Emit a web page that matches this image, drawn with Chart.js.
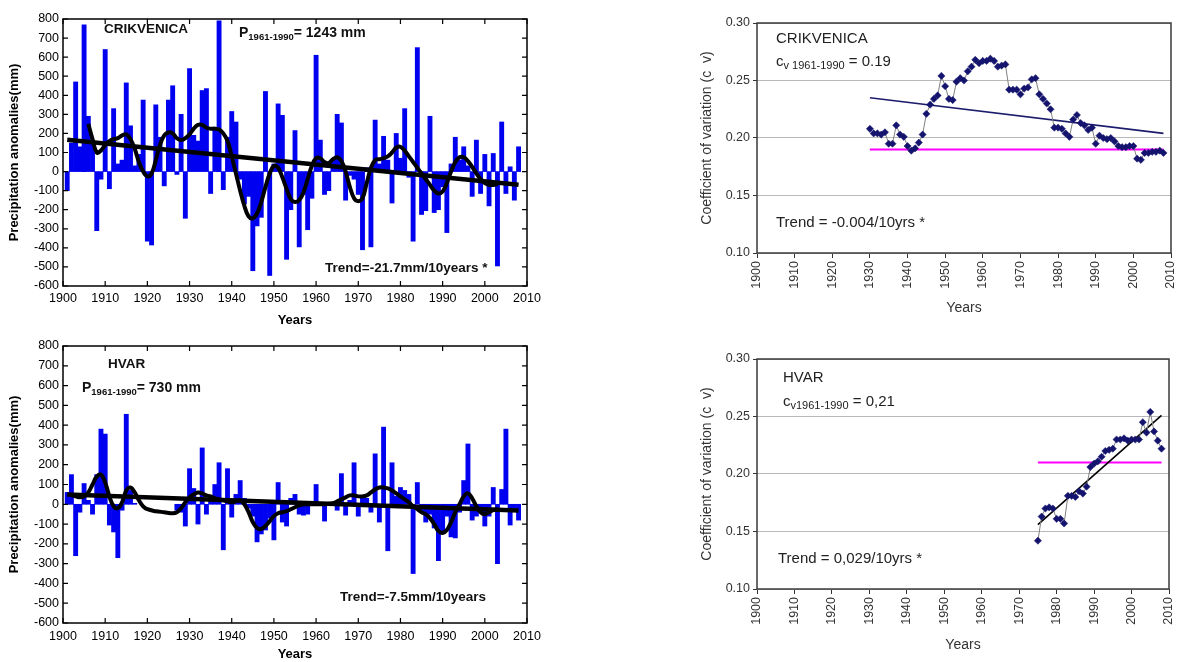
<!DOCTYPE html>
<html lang="en">
<head>
<meta charset="UTF-8">
<title>Precipitation anomalies and coefficient of variation</title>
<script src="https://cdn.jsdelivr.net/npm/chart.js"></script>
<style>
  body { margin: 0; background: #fff; }
  canvas { position: absolute; }
</style>
</head>
<body>
<canvas id="crikP" width="560" height="330" style="left:0;top:0"></canvas>
<canvas id="hvarP" width="560" height="332" style="left:0;top:330px"></canvas>
<canvas id="crikCv" width="487" height="330" style="left:690px;top:0"></canvas>
<canvas id="hvarCv" width="487" height="332" style="left:690px;top:330px"></canvas>

<script>
// ---- data ----
const xTickYears = [1900, 1910, 1920, 1930, 1940, 1950, 1960, 1970, 1980, 1990, 2000, 2010];
const precipTicks = [-600, -500, -400, -300, -200, -100, 0, 100, 200, 300, 400, 500, 600, 700, 800];
const cvTicks = [0.10, 0.15, 0.20, 0.25, 0.30];

// Crikvenica precipitation anomalies (mm), 1901-2008
const crikStartYear = 1901;
const crikAnomaly = [
  -100, 150, 470, 130, 770, 290, 160, -310, -40, 640,
  -90, 330, 40, 60, 465, 240, 30, 90, 375, -365,
  -385, 350, 180, -75, 375, 450, -15, 300, -245, 540,
  190, 160, 425, 435, -115, 230, 790, -95, 180, 315,
  260, -40, -170, -130, -520, -285, -240, 420, -545, 40,
  355, 295, -460, -200, 215, -395, -120, -305, -140, 610,
  165, -120, -100, 60, 300, 255, -150, -20, -40, -120,
  -410, 20, -395, 270, 40, 185, 60, -165, 200, 70,
  330, -30, -365, 650, -225, -205, 290, -215, -200, -80,
  -320, 40, 180, 60, 130, 30, -130, 165, -115, 90,
  -180, 95, -495, 260, -115, 25, -150, 130
];
// Gaussian-filtered curve, 1906-2003
const crikSmoothStart = 1906;
const crikSmooth = [
  250, 170, 100, 110, 140, 160, 170, 175, 190, 195,
  170, 120, 50, 0, -25, -10, 60, 140, 190, 205,
  200, 175, 165, 175, 195, 225, 245, 245, 230, 225,
  225, 220, 200, 160, 80, -10, -100, -180, -235, -245,
  -220, -160, -80, -10, 30, 20, -30, -90, -145, -160,
  -150, -110, -40, 30, 70, 70, 50, 45, 65, 75,
  55, 0, -80, -140, -155, -140, -60, 20, 60, 65,
  70, 80, 100, 125, 130, 110, 80, 50, 20, -10,
  -40, -70, -100, -115, -105, -60, 0, 50, 75, 75,
  55, 25, -10, -40, -60, -70, -70, -65
];
const crikTrendYears = [1901, 2008];
const crikTrend = [167, -69];

// Hvar precipitation anomalies (mm), 1901-2008 (no data 1918-1926)
const hvarStartYear = 1901;
const hvarAnomaly = [
  60, 150, -260, -40, 105, 20, -50, 150, 380, 355,
  -105, -140, -270, -30, 455, 70, 5,
  null, null, null, null, null, null, null, null, null,
  -30, -40, -110, 180, 80, -100, 285, -50, 20, 100,
  210, -230, 180, -65, 50, 120, 30, -20, -60, -190,
  -150, -130, -70, -180, 110, -90, -110, 30, 50, -50,
  -55, -50, 10, 100, 10, -85, 5, 10, -30, 155,
  -55, 20, 210, -60, 30, 30, -40, 255, -90, 390,
  -235, 210, 40, 85, 70, 50, -350, 110, -40, -90,
  -50, -120, -285, -140, -60, -165, -170, -40, 120, 305,
  -80, -60, -40, -110, -60, 85, -300, 75, 380, -105,
  -20, -80
];
const hvarSmoothYears = [
  1902, 1903, 1904, 1905, 1906, 1907, 1908, 1909, 1910, 1911,
  1912, 1913, 1914, 1915, 1916, 1917, 1918, 1919, 1920, 1922,
  1924, 1926, 1927, 1928, 1929, 1930, 1931, 1932, 1933, 1934,
  1935, 1936, 1937, 1938, 1939, 1940, 1941, 1942, 1943, 1944,
  1945, 1946, 1947, 1948, 1949, 1950, 1951, 1952, 1953, 1954,
  1955, 1956, 1958, 1960, 1962, 1964, 1965, 1966, 1967, 1968,
  1969, 1970, 1971, 1972, 1973, 1974, 1975, 1976, 1977, 1978,
  1979, 1980, 1981, 1982, 1983, 1984, 1985, 1986, 1987, 1988,
  1989, 1990, 1991, 1992, 1993, 1994, 1995, 1996, 1997, 1998,
  1999, 2000, 2001, 2002, 2003
];
const hvarSmooth = [
  45, 40, 35, 40, 60, 100, 140, 150, 110, 40,
  -10, -20, 10, 70, 85, 60, 20, -10, -25, -35,
  -40, -45, -40, -20, 10, 35, 50, 60, 55, 45,
  40, 30, 25, 20, 15, 10, 15, 20, 0, -40,
  -90, -120, -125, -110, -85, -60, -45, -40, -35, -25,
  -15, -5, 0, 0, 0, 5, 15, 25, 35, 45,
  45, 40, 40, 45, 60, 75, 85, 85, 80, 70,
  55, 40, 25, 10, -10, -25, -40, -50, -70, -100,
  -135, -145, -130, -90, -40, 0, 40, 55, 30, -10,
  -40, -50, -40, -30, -25
];
const hvarTrendYears = [1901, 2008];
const hvarTrend = [49, -31];

// Coefficient of variation, Crikvenica 1930-2008
const crikCvStart = 1930;
const crikCvValues = [
  0.208, 0.204, 0.204, 0.203, 0.205, 0.195, 0.195, 0.211, 0.203, 0.201,
  0.193, 0.189, 0.191, 0.196, 0.203, 0.221, 0.229, 0.234, 0.237, 0.254,
  0.245, 0.234, 0.233, 0.249, 0.252, 0.250, 0.258, 0.262, 0.268, 0.265,
  0.267, 0.267, 0.269, 0.267, 0.262, 0.263, 0.264, 0.242, 0.242, 0.242,
  0.238, 0.243, 0.244, 0.251, 0.252, 0.238, 0.234, 0.230, 0.225, 0.209,
  0.209, 0.208, 0.204, 0.201, 0.216, 0.220, 0.213, 0.211, 0.207, 0.209,
  0.195, 0.202, 0.200, 0.199, 0.200, 0.197, 0.193, 0.192, 0.192, 0.193,
  0.193, 0.182, 0.181, 0.187, 0.187, 0.188, 0.188, 0.189, 0.187
];
const crikCvTrendYears = [1930, 2008];
const crikCvTrend = [0.235, 0.204];
const crikCvNormYears = [1930, 2008];
const crikCvNorm = [0.19, 0.19];

// Coefficient of variation, Hvar 1975-2008
const hvarCvStart = 1975;
const hvarCvValues = [
  0.142, 0.163, 0.170, 0.171, 0.170, 0.161, 0.161, 0.157, 0.181, 0.181,
  0.180, 0.185, 0.183, 0.189, 0.206, 0.209, 0.211, 0.215, 0.220, 0.221,
  0.222, 0.230, 0.230, 0.231, 0.229, 0.230, 0.230, 0.230, 0.245, 0.236,
  0.254, 0.237, 0.229, 0.222
];
const hvarCvTrendYears = [1975, 2008];
const hvarCvTrend = [0.156, 0.251];
const hvarCvNormYears = [1975, 2008];
const hvarCvNorm = [0.21, 0.21];

// ---- helpers ----
const FONT = '"Liberation Sans", Arial, sans-serif';
Chart.defaults.font.family = FONT;

function fromStart(start, values) {
  return values.map((v, i) => ({ x: start + i, y: v }));
}
function pairs(xs, ys) {
  return xs.map((x, i) => ({ x: x, y: ys[i] }));
}

function drawParts(ctx, x, y, parts) {
  let cx = x;
  ctx.textBaseline = 'middle';
  ctx.textAlign = 'left';
  parts.forEach(p => {
    ctx.font = p.font;
    ctx.fillText(p.t, cx, y + (p.dy || 0));
    cx += ctx.measureText(p.t).width;
  });
}

function notesPlugin(items, color) {
  return {
    id: 'notes',
    afterDraw(chart) {
      const ctx = chart.ctx;
      ctx.save();
      ctx.fillStyle = color;
      items.forEach(it => drawParts(ctx, it.x, it.y, it.parts));
      ctx.restore();
    }
  };
}

// keep label overhang from shifting the plot area
function noPad(s) {
  s.paddingLeft = 0; s.paddingRight = 0; s.paddingTop = 0; s.paddingBottom = 0;
}

// frame with inward ticks on all four sides (left panels)
const boxTicks = {
  id: 'boxTicks',
  afterDatasetsDraw(chart) {
    const { ctx, chartArea: a } = chart;
    const x = chart.scales.x, y = chart.scales.y;
    ctx.save();
    ctx.strokeStyle = '#000';
    ctx.lineWidth = 1.5;
    ctx.strokeRect(a.left, a.top, a.right - a.left, a.bottom - a.top);
    ctx.lineWidth = 1.2;
    ctx.beginPath();
    x.ticks.forEach(t => {
      const px = x.getPixelForValue(t.value);
      ctx.moveTo(px, a.bottom); ctx.lineTo(px, a.bottom - 5);
      ctx.moveTo(px, a.top); ctx.lineTo(px, a.top + 5);
    });
    y.ticks.forEach(t => {
      const py = y.getPixelForValue(t.value);
      ctx.moveTo(a.left, py); ctx.lineTo(a.left + 5, py);
      ctx.moveTo(a.right, py); ctx.lineTo(a.right - 5, py);
    });
    ctx.stroke();
    ctx.restore();
  }
};

// plain frame (right panels)
const plainFrame = {
  id: 'plainFrame',
  afterDatasetsDraw(chart) {
    const { ctx, chartArea: a } = chart;
    ctx.save();
    ctx.strokeStyle = '#3a3a3a';
    ctx.lineWidth = 1.5;
    ctx.strokeRect(a.left, a.top, a.right - a.left, a.bottom - a.top);
    ctx.restore();
  }
};

function precipChart(id, o) {
  return new Chart(document.getElementById(id), {
    type: 'bar',
    data: {
      datasets: [
        { type: 'line', data: o.smooth, borderColor: '#000', borderWidth: 4, pointRadius: 0, tension: 0.4, order: 0 },
        { type: 'line', data: o.trend, borderColor: '#000', borderWidth: 4.5, pointRadius: 0, order: 1 },
        { data: o.bars, backgroundColor: '#0000f0', barPercentage: 1, categoryPercentage: 1, order: 2 }
      ]
    },
    options: {
      responsive: false,
      animation: false,
      layout: { padding: o.padding },
      plugins: { legend: { display: false }, tooltip: { enabled: false } },
      scales: {
        x: {
          type: 'linear', offset: false, min: 1900, max: 2010,
          afterBuildTicks: s => { s.ticks = xTickYears.map(v => ({ value: v })); },
          afterFit: s => { s.height = o.xHeight; noPad(s); },
          grid: { display: false, drawTicks: false },
          border: { display: false },
          ticks: { padding: o.xPad, maxRotation: 0, autoSkip: false, color: '#000',
                   font: { size: 12.5 }, callback: v => String(v) },
          title: { display: true, text: 'Years', color: '#000',
                   font: { size: 13, weight: 'bold' }, padding: { top: 0, bottom: o.titlePad } }
        },
        y: {
          min: -600, max: 800,
          afterBuildTicks: s => { s.ticks = precipTicks.map(v => ({ value: v })); },
          afterFit: s => { s.width = 63; noPad(s); },
          grid: { display: false, drawTicks: false },
          border: { display: false },
          ticks: { padding: 4, color: '#000', font: { size: 12.5 }, callback: v => String(v) },
          title: { display: true, text: 'Precipitation anomalies(mm)', color: '#000',
                   font: { size: 13, weight: 'bold' }, padding: { top: 7, bottom: 0 } }
        }
      }
    },
    plugins: [boxTicks, notesPlugin(o.notes, '#111')]
  });
}

function cvChart(id, o) {
  return new Chart(document.getElementById(id), {
    type: 'line',
    data: {
      datasets: [
        { data: o.series, borderColor: '#808080', borderWidth: 1, pointStyle: 'rectRot', pointRadius: 3.6,
          pointBackgroundColor: '#14146e', pointBorderColor: '#14146e', pointBorderWidth: 0.5, order: 0 },
        { data: o.trend, borderColor: o.trendColor, borderWidth: 1.6, pointRadius: 0, order: 1 },
        { data: o.norm, borderColor: '#ff00ff', borderWidth: 2, pointRadius: 0, order: 2 }
      ]
    },
    options: {
      responsive: false,
      animation: false,
      layout: { padding: o.padding },
      plugins: { legend: { display: false }, tooltip: { enabled: false } },
      scales: {
        x: {
          type: 'linear', min: 1900, max: 2010,
          afterBuildTicks: s => { s.ticks = xTickYears.map(v => ({ value: v })); },
          afterFit: s => { s.height = o.xHeight; noPad(s); },
          grid: { drawOnChartArea: false, tickLength: 5, tickColor: '#333' },
          border: { display: false },
          ticks: { padding: 3, minRotation: 90, maxRotation: 90, autoSkip: false, color: '#333',
                   font: { size: 12.5 }, callback: v => String(v) },
          title: { display: true, text: 'Years', color: '#333',
                   font: { size: 14 }, padding: { top: 0, bottom: o.titlePad } }
        },
        y: {
          min: 0.1, max: 0.3,
          afterBuildTicks: s => { s.ticks = cvTicks.map(v => ({ value: v })); },
          afterFit: s => { s.width = 67; noPad(s); },
          grid: { color: '#b8b8b8', lineWidth: 1, tickLength: 4, tickColor: '#333' },
          border: { display: false },
          ticks: { padding: 3, color: '#333', font: { size: 12.5 }, callback: v => v.toFixed(2) },
          title: { display: true, text: 'Coefficient of variation (c  v)', color: '#333',
                   font: { size: 14 }, padding: { top: 9, bottom: 0 } }
        }
      }
    },
    plugins: [plainFrame, notesPlugin(o.notes, '#222')]
  });
}

const B14 = 'bold 14px ' + FONT;
const B9 = 'bold 9.5px ' + FONT;
const B13 = 'bold 13.5px ' + FONT;
const N15 = '15px ' + FONT;
const N11 = '11px ' + FONT;

precipChart('crikP', {
  bars: fromStart(crikStartYear, crikAnomaly),
  smooth: fromStart(crikSmoothStart, crikSmooth),
  trend: pairs(crikTrendYears, crikTrend),
  padding: { top: 19, right: 33, left: 0, bottom: 0 },
  xHeight: 44, xPad: 5, titlePad: 2,
  notes: [
    { x: 104, y: 29, parts: [{ t: 'CRIKVENICA', font: B13 }] },
    { x: 239, y: 33, parts: [{ t: 'P', font: B14 }, { t: '1961-1990', font: B9, dy: 4 }, { t: '= 1243 mm', font: B14 }] },
    { x: 325, y: 268, parts: [{ t: 'Trend=-21.7mm/10years *', font: B13 }] }
  ]
});

precipChart('hvarP', {
  bars: fromStart(hvarStartYear, hvarAnomaly),
  smooth: pairs(hvarSmoothYears, hvarSmooth),
  trend: pairs(hvarTrendYears, hvarTrend),
  padding: { top: 16, right: 33, left: 0, bottom: 0 },
  xHeight: 39, xPad: 6, titlePad: 0,
  notes: [
    { x: 108, y: 34, parts: [{ t: 'HVAR', font: B13 }] },
    { x: 82, y: 58, parts: [{ t: 'P', font: B14 }, { t: '1961-1990', font: B9, dy: 4 }, { t: '= 730 mm', font: B14 }] },
    { x: 340, y: 267, parts: [{ t: 'Trend=-7.5mm/10years', font: B13 }] }
  ]
});

cvChart('crikCv', {
  series: fromStart(crikCvStart, crikCvValues),
  trend: pairs(crikCvTrendYears, crikCvTrend),
  norm: pairs(crikCvNormYears, crikCvNorm),
  trendColor: '#1c1c6c',
  padding: { top: 23, right: 6, left: 0, bottom: 0 },
  xHeight: 77, titlePad: 13,
  notes: [
    { x: 86, y: 39, parts: [{ t: 'CRIKVENICA', font: N15 }] },
    { x: 86, y: 62, parts: [{ t: 'c', font: N15 }, { t: 'v 1961-1990', font: N11, dy: 4 }, { t: ' = 0.19', font: N15 }] },
    { x: 86, y: 223, parts: [{ t: 'Trend = -0.004/10yrs *', font: N15 }] }
  ]
});

cvChart('hvarCv', {
  series: fromStart(hvarCvStart, hvarCvValues),
  trend: pairs(hvarCvTrendYears, hvarCvTrend),
  norm: pairs(hvarCvNormYears, hvarCvNorm),
  trendColor: '#000',
  padding: { top: 29, right: 8, left: 0, bottom: 0 },
  xHeight: 73, titlePad: 8,
  notes: [
    { x: 93, y: 48, parts: [{ t: 'HVAR', font: N15 }] },
    { x: 93, y: 72, parts: [{ t: 'c', font: N15 }, { t: 'v1961-1990', font: N11, dy: 4 }, { t: ' = 0,21', font: N15 }] },
    { x: 88, y: 229, parts: [{ t: 'Trend = 0,029/10yrs *', font: N15 }] }
  ]
});
</script>
</body>
</html>
